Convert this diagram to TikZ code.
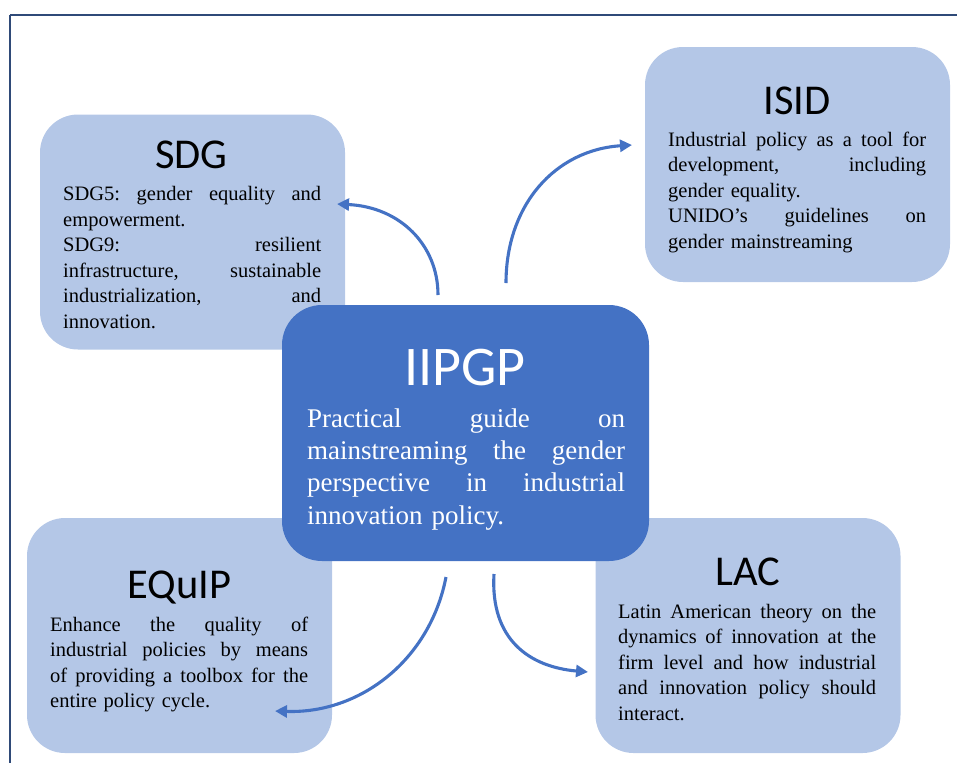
\documentclass[tikz,border=0pt]{standalone}
\usepackage{fontspec}
\setmainfont{Liberation Serif}
\newfontfamily\titlefont{Carlito}
\usetikzlibrary{arrows.meta}
\definecolor{lightbox}{HTML}{B4C7E7}
\definecolor{darkbox}{HTML}{4472C4}
\definecolor{framec}{HTML}{2F4A78}
\newcommand\jl[1]{\makebox[258pt][s]{\frenchspacing\spaceskip=.25em plus 1fil\xspaceskip=.25em plus 1fil\relax #1}\\}
\newcommand\jlb[1]{\makebox[318pt][s]{\frenchspacing\spaceskip=.25em plus 1fil\xspaceskip=.25em plus 1fil\relax #1}\\}
\begin{document}
\begin{tikzpicture}[x=1pt,y=-1pt,
  panel/.style={fill=lightbox, rounded corners=38pt, inner sep=0pt, minimum width=305pt, minimum height=235pt},
  hub/.style={fill=darkbox, rounded corners=40pt, inner sep=0pt, minimum width=367pt, minimum height=256pt},
  ttl/.style={font=\titlefont\fontsize{42.5}{46}\selectfont, anchor=base, inner sep=0pt},
  bigttl/.style={font=\titlefont\fontsize{56}{60}\selectfont, anchor=base, inner sep=0pt, text=white},
  bodytxt/.style={font=\fontsize{20.5}{25.5}\selectfont\frenchspacing, anchor=base west, inner sep=0pt, text width=258pt, align=left},
  hubtxt/.style={font=\fontsize{27}{32.4}\selectfont\frenchspacing, anchor=base west, inner sep=0pt, text width=318pt, align=left, text=white},
  conn/.style={draw=darkbox, line width=3.1pt, -{Triangle[length=12pt,width=12pt]}},
  framel/.style={draw=framec, line width=1.6pt}]
\useasboundingbox (0,0) rectangle (957,763);
\draw[framel] (10,15) -- (957,15);
\draw[framel] (10,15) -- (10,763);

% panels
\node[panel] (sdg) at (192.5,232) {};
\node[panel] (isid) at (797.5,164.5) {};
\node[panel] (equip) at (179.5,635.5) {};
\node[panel] (lac) at (748,635.5) {};
\node[hub] (hubbox) at (465.5,433) {};

% titles
\node[ttl] (sdgt) at (191.5,168) {SDG};
\node[ttl] (isidt) at (797,114) {ISID};
\node[ttl] (lact) at (748,585) {LAC};
\node[ttl] (equipt) at (179.5,598) {EQuIP};
\node[bigttl] (hubt) at (465,385) {IIPGP};

% bodies
\node[bodytxt] (sdgb) at (63,200.7) {\jl{SDG5: gender equality and}empowerment.\\\jl{SDG9: resilient}\jl{infrastructure, sustainable}\jl{industrialization, and}innovation.};
\node[bodytxt] (isidb) at (668,146) {\jl{Industrial policy as a tool for}\jl{development, including}gender equality.\\\jl{UNIDO’s guidelines on}gender mainstreaming};
\node[bodytxt] (lacb) at (618,618) {\jl{Latin American theory on the}\jl{dynamics of innovation at the}\jl{firm level and how industrial}\jl{and innovation policy should}interact.};
\node[bodytxt] (equipb) at (50,631) {\jl{Enhance the quality of}\jl{industrial policies by means}\jl{of providing a toolbox for the}entire policy cycle.};
\node[hubtxt] (hubb) at (307,427) {\jlb{Practical guide on}\jlb{mainstreaming the gender}\jlb{perspective in industrial}innovation policy.};

% connectors
\coordinate (a1s) at (438,295);
\coordinate (a1e) at (337,204);
\coordinate (a2s) at (506,283);
\coordinate (a2e) at (632,145);
\coordinate (a3s) at (446,577);
\coordinate (a3e) at (275,711);
\coordinate (a4s) at (494,574);
\coordinate (a4e) at (588,672);
\draw[conn] (a1s) .. controls (438,245) and (400,207) .. (a1e);
\draw[conn] (a2s) .. controls (506,205) and (555,150) .. (a2e);
\draw[conn] (a3s) .. controls (430,660) and (360,714) .. (a3e);
\draw[conn] (a4s) .. controls (490,640) and (530,667) .. (a4e);
\end{tikzpicture}
\end{document}
